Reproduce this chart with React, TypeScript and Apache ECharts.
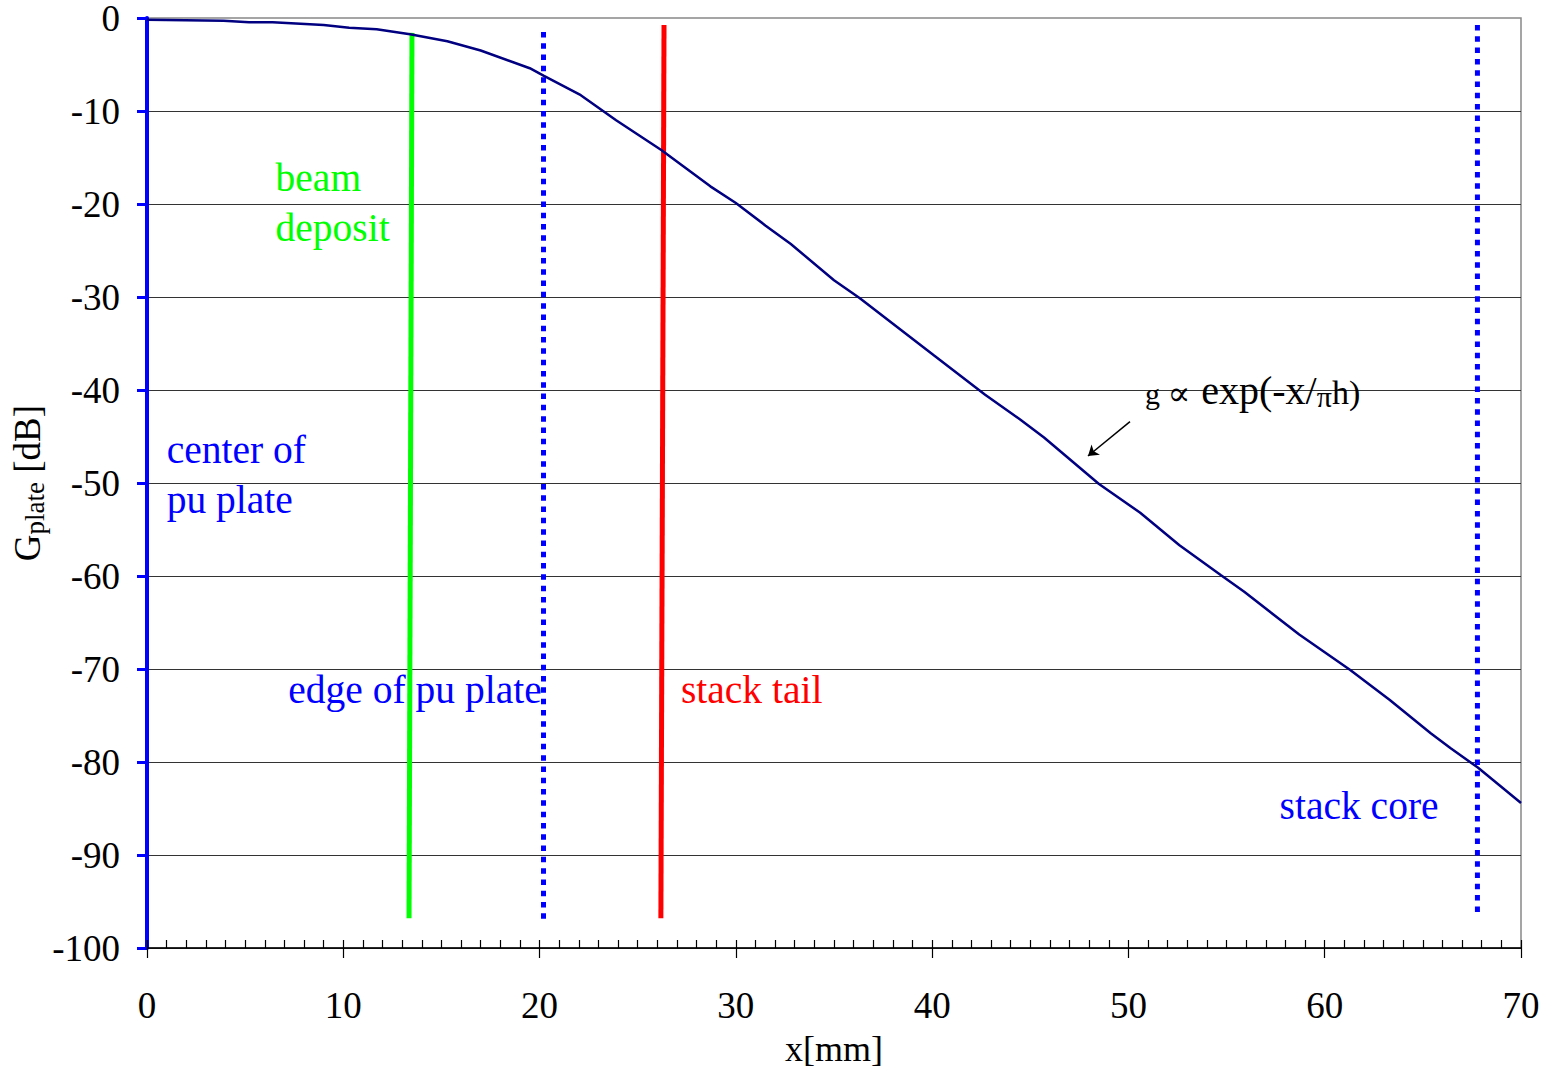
import React, { useEffect, useRef } from "react";
import * as echarts from "echarts";

// Curve: G_plate [dB] vs x [mm]
const xMm = [0, 3.9, 5.2, 6.4, 9.0, 10.3, 11.7, 13.4, 15.3, 17.0, 19.5, 20.2, 22.1, 23.9, 26.2, 28.7, 30.0, 31.5, 32.8, 35.0, 36.3, 40.1, 42.7, 44.5, 45.7, 48.5, 50.6, 52.6, 54.7, 55.9, 58.7, 60.0, 61.3, 63.3, 65.4, 66.4, 67.8, 70];
const gDb = [-0.2, -0.3, -0.45, -0.45, -0.75, -1.05, -1.2, -1.75, -2.5, -3.5, -5.4, -6.2, -8.3, -11, -14.2, -18.1, -19.9, -22.3, -24.3, -28.2, -30.1, -36.3, -40.5, -43.2, -45.1, -50.1, -53.2, -56.7, -59.9, -61.7, -66.3, -68.2, -70.1, -73.3, -76.9, -78.5, -80.6, -84.4];

// Vertical markers [x, y] endpoints
const beamDeposit = [[13.5, -1.6], [13.35, -96.8]];
const stackTail = [[26.34, -0.75], [26.18, -96.8]];
const edgePlate = [[20.2, -1.5], [20.2, -97.2]];
const stackCore = [[67.78, -0.75], [67.78, -96.3]];
const arrowLine = [[50.08, -43.4], [47.94, -47.1]];

// Axis ticks
const xMin = 0, xMax = 70, xMajor = 10, xMinor = 1;
const yMin = -100, yMax = 0, yStep = 10;

// Text annotations
const labelTexts = ["center of\npu plate", "beam\ndeposit", "edge of pu plate", "stack tail", "stack core"];
const labelX = [1.0, 6.55, 7.2, 27.2, 57.7];
const labelY = [-49.1, -19.9, -72.3, -72.3, -84.7];
const labelColors = ["#0000ff", "#00ff00", "#0000ff", "#ff0000", "#0000ff"];
const formulaAt = [50.84, -40.0];

const FONT = "'Liberation Serif', 'Times New Roman', serif";

export default function App() {
  const ref = useRef<HTMLDivElement>(null);
  useEffect(() => {
    if (!ref.current) return;
    const chart = echarts.init(ref.current, null, { renderer: "svg" });
    const curve = xMm.map((x, i) => [x, gDb[i]]);
    const vline = (name: string, data: number[][], color: string, dashed: boolean) => ({
      name,
      type: "line",
      data,
      showSymbol: false,
      symbol: "none",
      z: 3,
      lineStyle: { color, width: 5, type: dashed ? [5.5, 5.8] : "solid", cap: "butt" },
    });
    chart.setOption({
      animation: false,
      textStyle: { fontFamily: FONT },
      grid: {
        left: 147, right: 26, top: 18, bottom: 121,
        outerBoundsMode: "none", containLabel: false,
        show: true, borderColor: "#888", borderWidth: 1.5, backgroundColor: "transparent",
      },
      xAxis: [
        {
          type: "value", min: xMin, max: xMax, interval: xMajor, position: "bottom",
          name: "x[mm]", nameLocation: "middle", nameGap: 84,
          nameTextStyle: { fontSize: 36, lineHeight: 34, color: "#000", fontFamily: FONT },
          axisLine: { show: true, onZero: false, lineStyle: { color: "#000", width: 1.5 } },
          axisTick: { show: true, inside: false, length: 10, lineStyle: { color: "#000", width: 1.2 } },
          axisLabel: { fontSize: 37, color: "#000", margin: 39, fontFamily: FONT },
          splitLine: { show: false },
        },
        {
          type: "value", min: xMin, max: xMax, interval: xMinor, position: "bottom", offset: 0,
          axisLine: { show: false, onZero: false },
          axisTick: { show: true, inside: true, length: 8, lineStyle: { color: "#000", width: 1.2 } },
          axisLabel: { show: false },
          splitLine: { show: false },
        },
      ],
      yAxis: {
        type: "value", min: yMin, max: yMax, interval: yStep,
        name: "{g|G}{s|plate}{n| [dB]}", nameLocation: "middle", nameGap: 99,
        nameMoveOverlap: false,
        nameTextStyle: {
          color: "#000", fontFamily: FONT,
          rich: {
            g: { fontSize: 37, fontFamily: FONT, color: "#000" },
            s: { fontSize: 27, fontFamily: FONT, color: "#000", padding: [14, 0, 0, 0] },
            n: { fontSize: 37, fontFamily: FONT, color: "#000" },
          },
        },
        axisLine: { show: true, onZero: false, lineStyle: { color: "#0000ff", width: 4 } },
        axisTick: { show: true, inside: false, length: 10, lineStyle: { color: "#0000ff", width: 3 } },
        axisLabel: { fontSize: 37, lineHeight: 34, color: "#000", margin: 27, fontFamily: FONT },
        splitLine: { show: true, showMaxLine: false, lineStyle: { color: "#333", width: 1 } },
      },
      series: [
        {
          name: "G_plate", type: "line", data: curve, showSymbol: false, symbol: "none", z: 4,
          lineStyle: { color: "#000080", width: 2.5 },
        },
        vline("beam deposit", beamDeposit, "#00ff00", false),
        vline("stack tail", stackTail, "#ff0000", false),
        vline("edge of pu plate", edgePlate, "#0000ff", true),
        vline("stack core", stackCore, "#0000ff", true),
        {
          type: "lines", coordinateSystem: "cartesian2d", z: 5,
          symbol: ["none", "arrow"], symbolSize: 10,
          lineStyle: { color: "#000", width: 1.5, opacity: 1 },
          data: [{ coords: arrowLine }],
        },
      ],
    });

    const toPx = (x: number, y: number) =>
      chart.convertToPixel({ xAxisIndex: 0, yAxisIndex: 0 }, [x, y]) as number[];

    const graphics: any[] = labelTexts.map((t, i) => {
      const p = toPx(labelX[i], labelY[i]);
      return {
        type: "text", x: p[0], y: p[1], z: 10,
        style: {
          text: t, fill: labelColors[i], fontSize: 39.5, fontFamily: FONT,
          textAlign: "left", textVerticalAlign: "middle", lineHeight: 50,
        },
      };
    });
    const fp = toPx(formulaAt[0], formulaAt[1]);
    graphics.push({
      type: "text", x: fp[0], y: fp[1], z: 10,
      style: {
        text: "{a|g }{e|∝ }{b|exp(-x/}{c|π}{d|h)}",
        textAlign: "left", textVerticalAlign: "middle",
        rich: {
          a: { fontSize: 30, fontFamily: FONT, fill: "#000", padding: [6, 0, 0, 0] },
          e: { fontSize: 34, fontFamily: "'DejaVu Serif', serif", fill: "#000", padding: [6, 0, 0, 0] },
          b: { fontSize: 40, fontFamily: FONT, fill: "#000" },
          c: { fontSize: 30, fontFamily: FONT, fill: "#000", padding: [12, 0, 0, 0] },
          d: { fontSize: 34, fontFamily: FONT, fill: "#000", padding: [4, 0, 0, 0] },
        },
      },
    });
    chart.setOption({ graphic: graphics });

    return () => chart.dispose();
  }, []);
  return (
    <div
      ref={ref}
      style={{ position: "fixed", left: 0, top: 0, width: 1547, height: 1069, background: "#fff" }}
    />
  );
}
